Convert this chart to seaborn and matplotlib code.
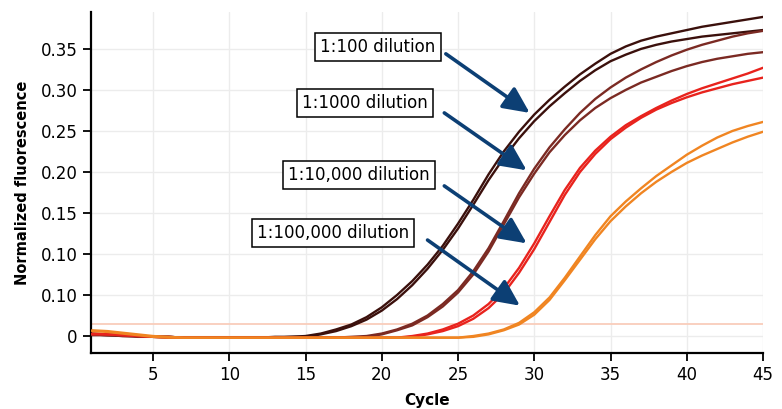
import numpy as np
import pandas as pd
import matplotlib
matplotlib.use('Agg')
import matplotlib.pyplot as plt
import seaborn as sns

cycles = list(range(1, 46))

# 1:100 dilution, two replicates
dil_100_a = [0.003, 0.002, 0.001, 0.000, -0.001, -0.001, -0.002, -0.002, -0.002, -0.002, -0.002, -0.002, -0.001, -0.001, 0.000,
             0.003, 0.008, 0.014, 0.023, 0.035, 0.050, 0.067, 0.087, 0.110, 0.137, 0.166, 0.197, 0.225, 0.249, 0.270,
             0.288, 0.304, 0.319, 0.332, 0.344, 0.353, 0.360, 0.365, 0.369, 0.373, 0.377, 0.380, 0.383, 0.386, 0.389]
dil_100_b = [0.002, 0.001, 0.001, 0.000, -0.001, -0.001, -0.002, -0.002, -0.002, -0.002, -0.002, -0.002, -0.002, -0.001, -0.001,
             0.002, 0.006, 0.012, 0.020, 0.031, 0.045, 0.062, 0.082, 0.105, 0.131, 0.160, 0.190, 0.217, 0.241, 0.262,
             0.280, 0.296, 0.311, 0.324, 0.335, 0.343, 0.350, 0.355, 0.359, 0.362, 0.365, 0.367, 0.369, 0.371, 0.373]

# 1:1000 dilution
dil_1000_a = [0.002, 0.001, 0.000, 0.000, -0.001, -0.001, -0.002, -0.002, -0.002, -0.002, -0.002, -0.002, -0.002, -0.002, -0.002,
              -0.002, -0.002, -0.001, 0.000, 0.003, 0.008, 0.015, 0.025, 0.039, 0.056, 0.079, 0.107, 0.140, 0.174, 0.204,
              0.230, 0.252, 0.272, 0.289, 0.303, 0.315, 0.325, 0.334, 0.342, 0.349, 0.355, 0.360, 0.365, 0.369, 0.372]
dil_1000_b = [0.001, 0.001, 0.000, -0.001, -0.001, -0.002, -0.002, -0.002, -0.002, -0.002, -0.002, -0.002, -0.002, -0.002, -0.002,
              -0.002, -0.002, -0.002, -0.001, 0.002, 0.007, 0.013, 0.023, 0.036, 0.053, 0.075, 0.103, 0.136, 0.169, 0.198,
              0.224, 0.245, 0.263, 0.278, 0.290, 0.300, 0.309, 0.316, 0.323, 0.329, 0.334, 0.338, 0.341, 0.344, 0.346]

# 1:10,000 dilution
dil_10k_a = [0.003, 0.002, 0.001, 0.000, -0.001, -0.001, -0.002, -0.002, -0.002, -0.002, -0.002, -0.002, -0.002, -0.002, -0.002,
             -0.002, -0.002, -0.002, -0.002, -0.002, -0.002, 0.000, 0.003, 0.008, 0.015, 0.025, 0.039, 0.058, 0.083, 0.113,
             0.146, 0.178, 0.205, 0.226, 0.243, 0.257, 0.268, 0.278, 0.287, 0.295, 0.302, 0.308, 0.314, 0.320, 0.327]
dil_10k_b = [0.002, 0.002, 0.001, 0.000, -0.001, -0.002, -0.002, -0.002, -0.002, -0.002, -0.002, -0.002, -0.002, -0.002, -0.002,
             -0.002, -0.002, -0.002, -0.002, -0.002, -0.002, -0.001, 0.002, 0.006, 0.012, 0.021, 0.034, 0.052, 0.077, 0.106,
             0.139, 0.172, 0.200, 0.222, 0.240, 0.254, 0.266, 0.276, 0.284, 0.291, 0.297, 0.302, 0.307, 0.311, 0.315]

# 1:100,000 dilution
dil_100k_a = [0.007, 0.006, 0.004, 0.002, 0.000, -0.001, -0.002, -0.002, -0.002, -0.002, -0.002, -0.002, -0.002, -0.002, -0.002,
              -0.002, -0.002, -0.002, -0.002, -0.002, -0.002, -0.002, -0.002, -0.002, -0.002, 0.000, 0.003, 0.008, 0.016, 0.029,
              0.047, 0.071, 0.097, 0.123, 0.146, 0.164, 0.180, 0.195, 0.208, 0.221, 0.232, 0.242, 0.250, 0.256, 0.261]
dil_100k_b = [0.006, 0.005, 0.003, 0.001, -0.001, -0.002, -0.002, -0.002, -0.002, -0.002, -0.002, -0.002, -0.002, -0.002, -0.002,
              -0.002, -0.002, -0.002, -0.002, -0.002, -0.002, -0.002, -0.002, -0.002, -0.002, -0.001, 0.002, 0.007, 0.014, 0.026,
              0.044, 0.068, 0.093, 0.118, 0.140, 0.158, 0.174, 0.188, 0.200, 0.211, 0.220, 0.228, 0.236, 0.243, 0.249]

threshold = 0.0146

labels = ['1:100 dilution', '1:1000 dilution', '1:10,000 dilution', '1:100,000 dilution']
y_ticks = [0, 0.05, 0.10, 0.15, 0.20, 0.25, 0.30, 0.35]
y_ticklabels = ['0', '0.10', '0.10', '0.15', '0.20', '0.25', '0.30', '0.35']
x_ticks = [5, 10, 15, 20, 25, 30, 35, 40, 45]

# label box centre and arrow start / tip, in data units
label_pos = [(19.75, 0.352), (18.9, 0.284), (18.5, 0.196), (16.8, 0.125)]
arrow_start = [(24.2, 0.344), (24.1, 0.272), (24.1, 0.183), (23.0, 0.117)]
arrow_tip = [(29.7, 0.272), (29.5, 0.202), (29.5, 0.113), (29.06, 0.037)]

curves = [dil_100_a, dil_100_b, dil_1000_a, dil_1000_b, dil_10k_a, dil_10k_b, dil_100k_a, dil_100k_b]
color_set = ['#3b100c', '#3b100c', '#7b2a23', '#7b2a23', '#e8231d', '#e8231d', '#f08522', '#f08522']

sns.set_style('white')
plt.rcParams['font.family'] = ['DejaVu Sans']
plt.rcParams['text.color'] = 'black'
plt.rcParams['axes.labelcolor'] = 'black'

fig = plt.figure(figsize=(7.82, 4.09), dpi=100)
ax = fig.add_axes([91 / 782, 1 - 353 / 409, 672 / 782, 341 / 409])

ax.plot([0.93, 45], [threshold, threshold], color='#f9cdbb', lw=1.3, zorder=1)

for vals, col in zip(curves, color_set):
    sns.lineplot(x=cycles, y=vals, color=col, lw=1.7, ax=ax, zorder=3)

ax.set_xlim(0.93, 45)
ax.set_ylim(-0.0207, 0.395)
ax.set_xticks(x_ticks)
ax.set_yticks(y_ticks)
ax.set_yticklabels(y_ticklabels)
ax.grid(True, color='#ececec', lw=1)
ax.set_axisbelow(True)

sns.despine(ax=ax)
ax.spines['left'].set_linewidth(1.6)
ax.spines['bottom'].set_linewidth(1.6)
ax.spines['left'].set_color('black')
ax.spines['bottom'].set_color('black')
ax.tick_params(axis='both', direction='out', length=6, width=1.3, colors='black',
               labelsize=12, left=True, bottom=True)

ax.set_xlabel('Cycle', fontsize=11, fontweight='bold', labelpad=6)
ax.set_ylabel('Normalized fluorescence', fontsize=10.5, fontweight='bold', labelpad=8)

navy = '#0c3f74'
for txt, pos, st, tip in zip(labels, label_pos, arrow_start, arrow_tip):
    ax.text(pos[0], pos[1], txt, fontsize=12, ha='center', va='center', zorder=5, color='black',
            bbox=dict(boxstyle='square,pad=0.3', fc='white', ec='black', lw=1.1))
    ax.annotate('', xy=tip, xytext=st, zorder=6,
                arrowprops=dict(arrowstyle='-|>,head_length=0.8,head_width=0.38',
                                color=navy, lw=2.6, shrinkA=0, shrinkB=0, mutation_scale=20))

fig.savefig('out.png', dpi=100)
